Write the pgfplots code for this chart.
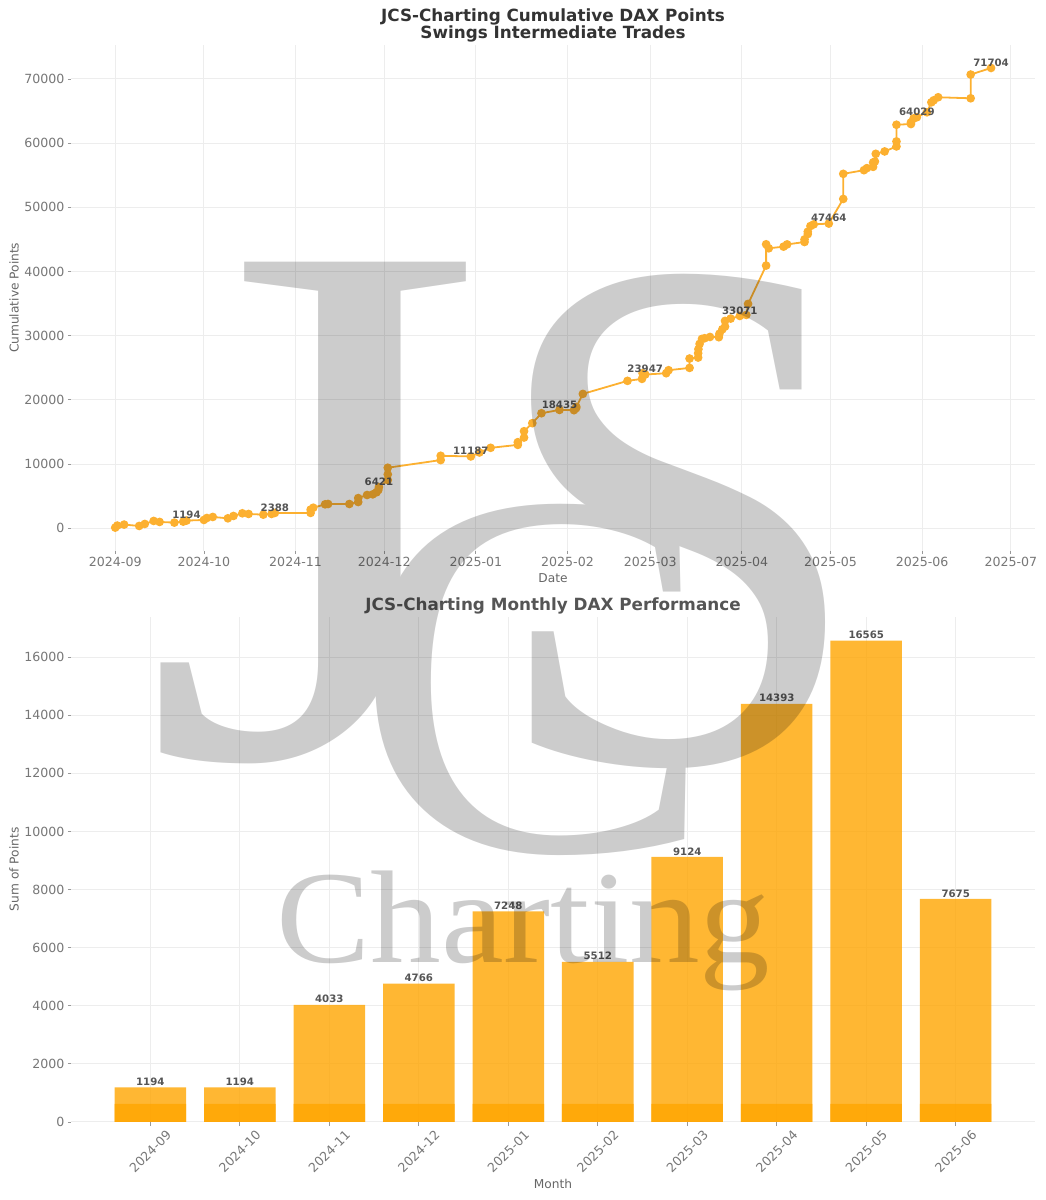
\documentclass[border=0pt]{standalone}
\usepackage{fontspec}
\usepackage{pgfplots}
\pgfplotsset{compat=1.18}
\setmainfont{DejaVu Sans}
\newfontfamily\wm{Liberation Serif}
\definecolor{dorange}{HTML}{FFA500}
\definecolor{lineo}{HTML}{FCB030}
\definecolor{ticktxt}{HTML}{777777}
\definecolor{lbltxt}{HTML}{666666}
\definecolor{gridc}{HTML}{EDEDED}
\definecolor{tickc}{HTML}{999999}
\definecolor{dlbl}{HTML}{555555}
\newcommand{\fs}[1]{\fontsize{#1}{#1}\selectfont}
\pgfplotsset{
  common/.style={
    scale only axis,
    grid=major,
    major grid style={color=gridc,line width=1pt},
    axis line style={draw=none},
    xtick pos=bottom, ytick pos=left,
    tick align=outside,
    major tick length=3.5pt,
    tick style={color=tickc,line width=0.8pt},
    ticklabel style={font=\fs{12.6},text=ticktxt,/pgf/number format/assume math mode=true},
    /pgf/number format/fixed,
    /pgf/number format/1000 sep={},
    scaled y ticks=false,
    label style={font=\fs{12.2},text=lbltxt},
    every axis y label/.style={at={(axis description cs:-0.0597,0.5)},rotate=90,anchor=center,font=\fs{12.2},text=lbltxt},
  }
}
\begin{document}
\begin{tikzpicture}
\useasboundingbox (0pt,0pt) rectangle (1045pt,1200pt);
\begin{axis}[common,
  at={(71.5pt,649.4pt)},anchor=south west,
  width=963pt,height=505.6pt,
  xmin=-14.8,xmax=311,ymin=-3480,ymax=75284,
  xtick={0,30,61,91,122,153,181,212,242,273,303},
  xticklabels={2024-09,2024-10,2024-11,2024-12,2025-01,2025-02,2025-03,2025-04,2025-05,2025-06,2025-07},
  ytick={0,10000,20000,30000,40000,50000,60000,70000},
  xlabel={Date},ylabel={Cumulative Points},
  xlabel style={at={(axis description cs:0.5,0)},anchor=center,yshift=-28pt},
  title={JCS-Charting Cumulative DAX Points\\Swings Intermediate Trades},
  title style={font=\bfseries\fs{16.8},text=black!80,align=center,at={(axis description cs:0.5,1)},anchor=south,yshift=-6.5pt},
  clip=false]
\addplot[color=lineo,line width=1.8pt,mark=*,mark size=3.4pt,mark options={solid,fill=lineo,draw=none}]
coordinates {
(0,100)(0.7,415)(3,570)(8.1,360)(10,670)(13,1140)(15,985)(20,880)(23,1035)(24.1,1194)
(30,1295)(31,1600)(33,1760)(38.1,1550)(40,1915)(43,2330)(45.1,2230)(50.1,2120)(52.9,2230)(54,2388)
(66.1,2388)(66.1,2900)(67,3200)(71,3730)(72,3780)(79.2,3780)(82.2,4090)(82.2,4700)(85.2,5180)(87.1,5280)
(88.4,5600)(89,5960)(89.2,6421)(92.2,7500)(92.2,8390)(92.2,9430)(110.1,10620)(110.1,11290)
(120.3,11187)(123.2,11800)(127,12530)(136.2,12990)(136.2,13410)(138.3,14130)(138.3,15120)(141.1,16370)
(144.2,17920)(150.3,18435)(155.2,18390)(155.9,18700)(156,18900)(158.2,20930)(173.3,22960)(178.2,23270)
(178.4,24150)(179.3,23947)(186.4,24150)(187.2,24620)(194.3,24980)(194.3,26440)(197.2,26590)(197.2,27270)
(197.3,27900)(197.7,28720)(198.5,29500)(199.4,29600)(201.2,29800)(204.2,29760)(204.4,30300)(205.4,31000)
(206.3,31420)(206.3,32300)(208.2,32660)(211.3,33071)(213.5,33230)(214.1,34950)(220.2,40920)(220.2,44240)
(221.1,43610)(226.1,43870)(227.3,44220)(233.2,44590)(233.2,45000)(234.3,45830)(234.3,46200)(235.2,47080)
(236.3,47340)(241.4,47464)(246.3,51300)(246.3,55210)(253.3,55780)(254.3,56100)(256.4,56300)(256.4,56980)
(257,57140)(257.3,58330)(260.3,58700)(264.3,59480)(264.3,60260)(264.3,62860)(269.2,62970)(269.2,63230)
(270.1,63850)(271.2,64029)(274.6,64800)(276.1,66350)(276.9,66670)(278.4,67140)(289.4,66980)(289.4,70680)(296.3,71704)
};
\addplot[draw=none,mark=none,nodes near coords,point meta=explicit symbolic,
  every node near coord/.style={font=\bfseries\fs{10.2},text=dlbl,anchor=south,yshift=-0.5pt,inner sep=2pt}]
coordinates {
(24.1,1194)[1194](54,2388)[2388](89.2,6421)[6421](120.3,11187)[11187](150.3,18435)[18435]
(179.3,23947)[23947](211.3,33071)[33071](241.4,47464)[47464](271.2,64029)[64029](296.3,71704)[71704]
};
\end{axis}
\begin{axis}[common,
  at={(71.5pt,78pt)},anchor=south west,
  width=963pt,height=505.4pt,
  xmin=-0.88,xmax=9.88,ymin=0,ymax=17393,
  xtick={0,1,2,3,4,5,6,7,8,9},
  xticklabels={2024-09,2024-10,2024-11,2024-12,2025-01,2025-02,2025-03,2025-04,2025-05,2025-06},
  xticklabel style={yshift=-26pt,rotate=45,anchor=center},
  ytick={0,2000,4000,6000,8000,10000,12000,14000,16000},
  xlabel={Month},ylabel={Sum of Points},
  xlabel style={at={(axis description cs:0.5,0)},anchor=center,yshift=-62pt},
  title={JCS-Charting Monthly DAX Performance},
  title style={font=\bfseries\fs{16.8},text=dlbl,at={(axis description cs:0.5,1)},anchor=south,yshift=-7pt},
  clip=false]
\addplot[ybar,bar width=71.5pt,bar shift=0pt,fill=dorange,draw=none,fill opacity=0.8,
  nodes near coords,point meta=explicit symbolic,
  every node near coord/.style={font=\bfseries\fs{10.2},text=dlbl,text opacity=1,anchor=south,inner sep=1.5pt}]
coordinates {(0,1194)[1194](1,1194)[1194](2,4033)[4033](3,4766)[4766](4,7248)[7248](5,5512)[5512](6,9124)[9124](7,14393)[14393](8,16565)[16565](9,7675)[7675]};
\addplot[ybar,bar width=71.5pt,bar shift=0pt,fill=dorange,draw=none,fill opacity=0.8]
coordinates {(0,620)(1,620)(2,620)(3,620)(4,620)(5,620)(6,620)(7,620)(8,620)(9,620)};
\end{axis}
\begin{scope}[transparency group,opacity=0.2]
\node[anchor=base west,inner sep=0pt,text=black,font=\wm\fs{755},xscale=1.165] at (142.5pt,443pt) {J};
\node[anchor=base west,inner sep=0pt,text=black,font=\wm\fs{523},xscale=1.04] at (353pt,349pt) {C};
\node[anchor=base west,inner sep=0pt,text=black,font=\wm\fs{736},xscale=0.935] at (485pt,438pt) {S};
\node[anchor=base west,inner sep=0pt,text=black,font=\wm\fs{132},xscale=1.07] at (276pt,237pt) {Charting};
\end{scope}
\end{tikzpicture}
\end{document}
